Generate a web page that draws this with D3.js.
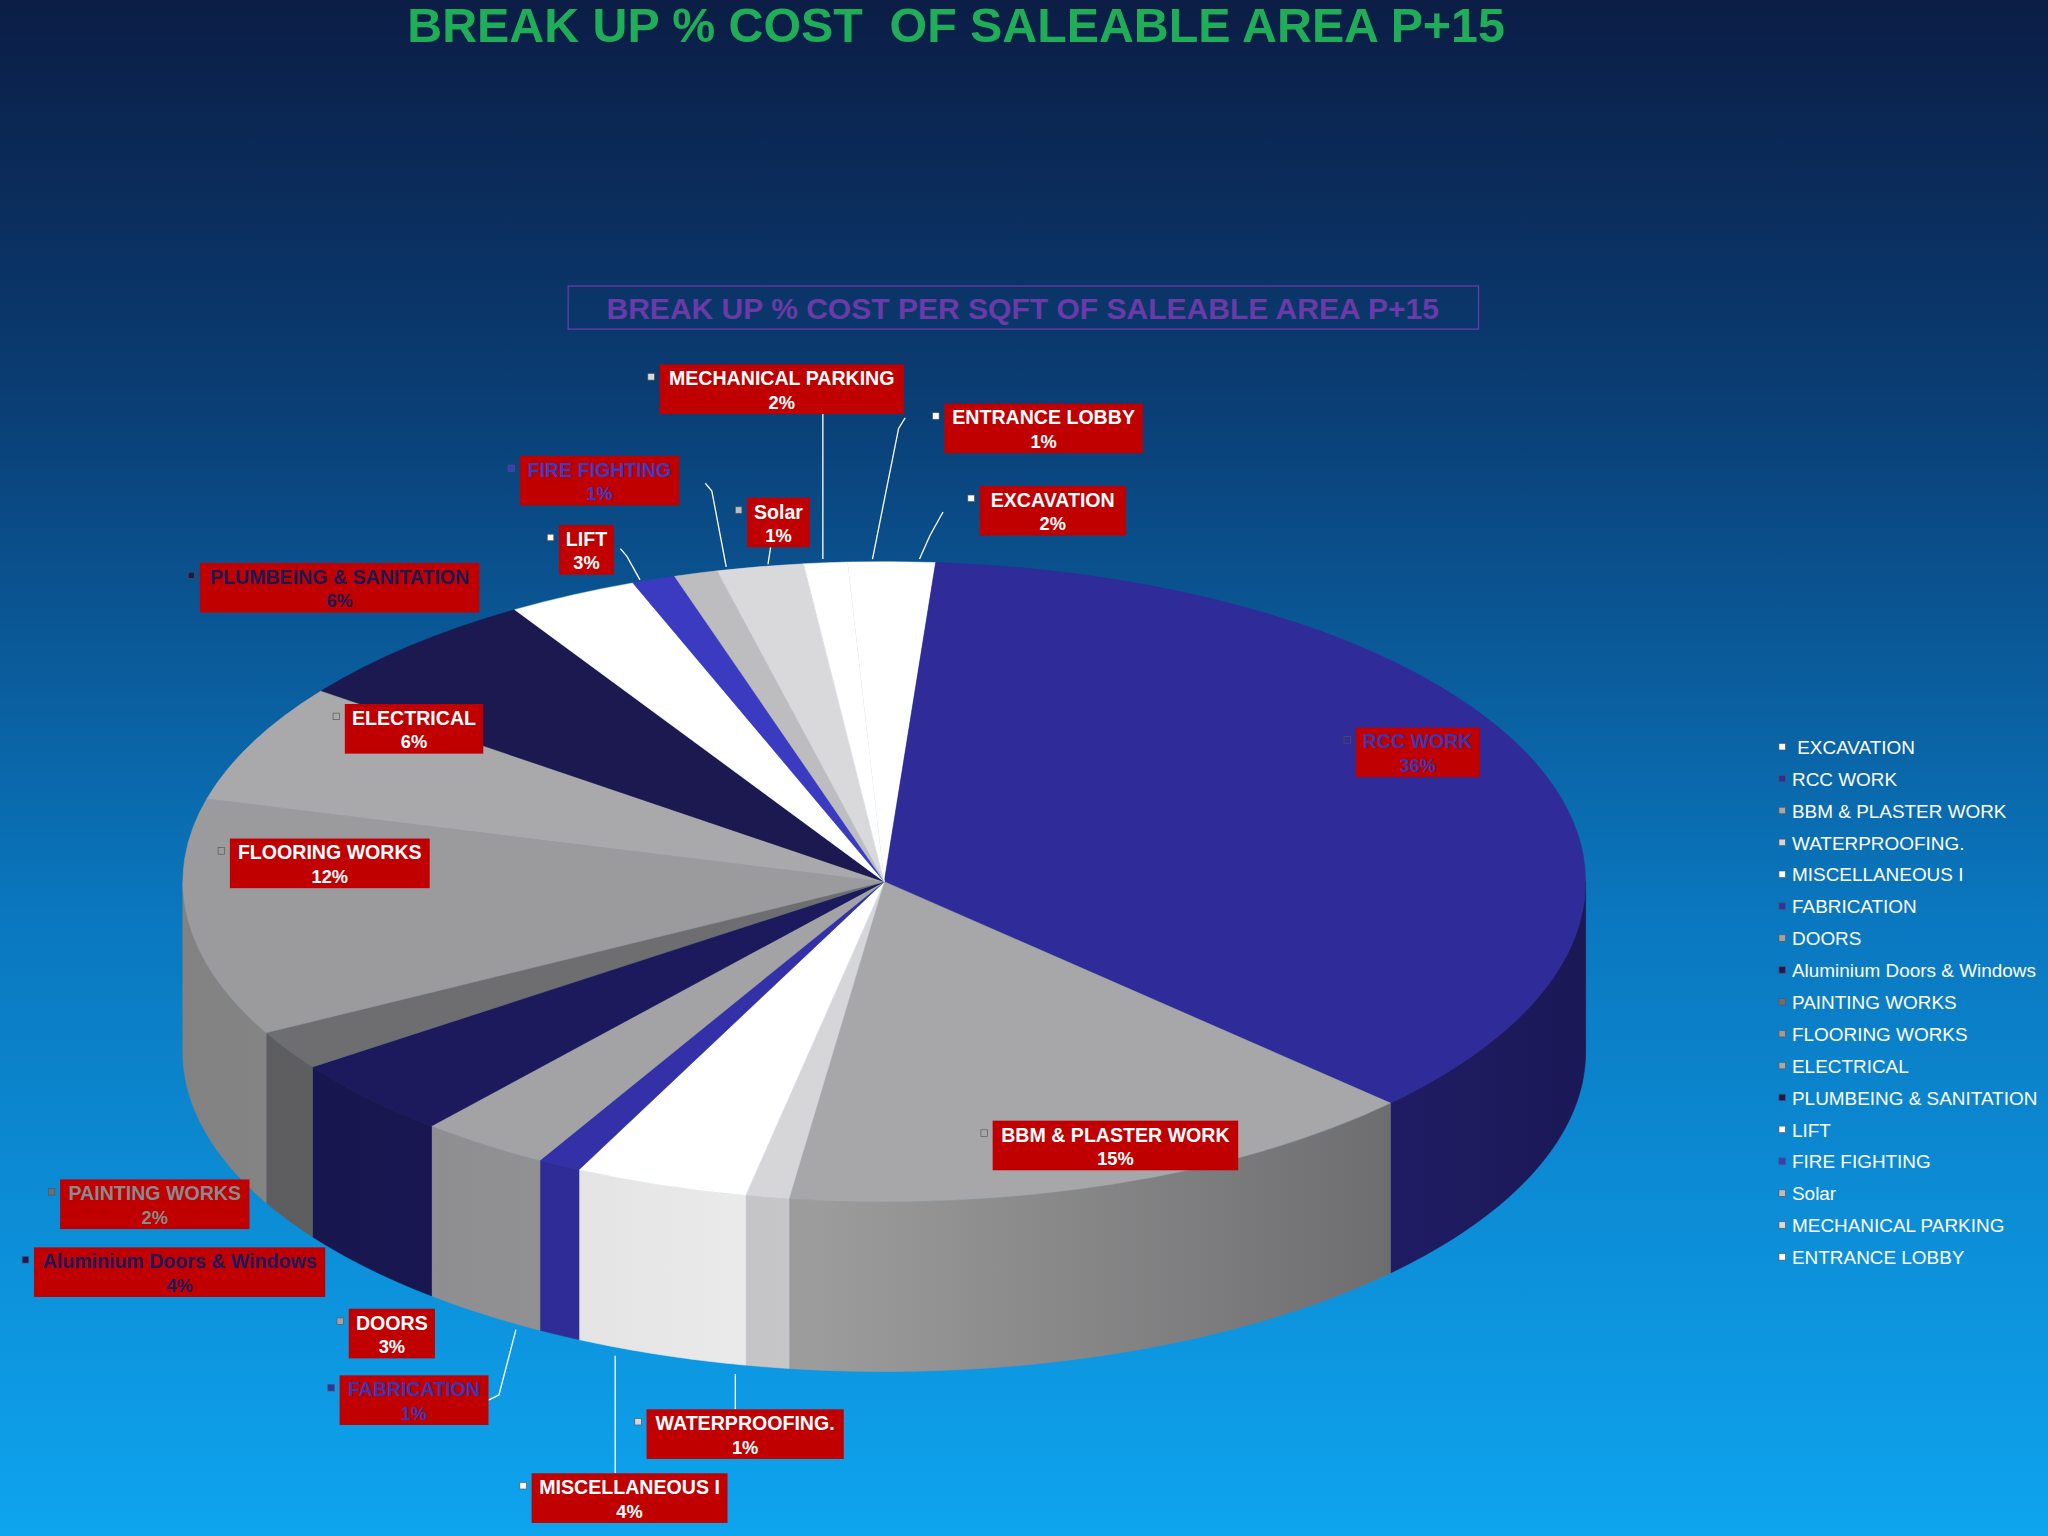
<!DOCTYPE html>
<html><head><meta charset="utf-8">
<script src="https://cdn.jsdelivr.net/npm/d3@7"></script>
<style>html,body{margin:0;padding:0;overflow:hidden}</style>
</head><body>
<script>
const categories=["EXCAVATION","RCC WORK","BBM & PLASTER WORK","WATERPROOFING.","MISCELLANEOUS I","FABRICATION","DOORS","Aluminium Doors & Windows","PAINTING WORKS","FLOORING WORKS","ELECTRICAL","PLUMBEING & SANITATION","LIFT","FIRE FIGHTING","Solar","MECHANICAL PARKING","ENTRANCE LOBBY"];
const values=[2,36,15,1,4,1,3,4,2,12,6,6,3,1,1,2,1];
const colors=["#ffffff","#2f2b98","#a7a7a9","#d6d6d8","#ffffff","#3431a8","#a3a3a5","#1c1a5c","#6e6e70","#9b9b9d","#a9a9ab","#1b1950","#ffffff","#3b3bc2","#bdbdbf","#d9d9db","#ffffff"];
const labelText=["#ffffff","#3a36b0","#ffffff","#ffffff","#ffffff","#3a36b0","#ffffff","#1c1a5c","#8a8a8c","#ffffff","#ffffff","#1b1950","#ffffff","#3b3bc2","#ffffff","#ffffff","#ffffff"];
const labelBoxes=[[750,372,862,410],[1038,557,1133,595],[760,858,948,896],[495,1079,646,1117],[407,1128,557,1166],[260,1053,374,1091],[267,1002,333,1040],[26,955,249,993],[46,903,191,941],[176,642,329,680],[264,539,370,577],[153,431,367,469],[428,402,470,440],[398,349,520,387],[572,381,620,419],[505,279,692,317],[723,309,875,347]];
const leaders=[[[722,392],[712,410],[704,428]],null,null,[[563,1079],[563,1052]],[[471,1128],[471,1038]],[[374,1072],[382,1068],[395,1018]],null,null,null,null,null,null,[[475,420],[480,426],[490,444]],[[540,370],[545,376],[556,434]],[[590,419],[588,432]],[[630,317],[630,428]],[[693,320],[688,328],[668,428]]];

const W=1568,H=1176;
const svg=d3.select("body").append("svg").attr("width",2048).attr("height",1536).attr("viewBox",`0 0 ${W} ${H}`);
const defs=svg.append("defs");
const bg=defs.append("linearGradient").attr("id","bg").attr("x1",0).attr("y1",0).attr("x2",0).attr("y2",1);
bg.append("stop").attr("offset","0").attr("stop-color","#0b1d45");
bg.append("stop").attr("offset","0.25").attr("stop-color","#0a3c72");
bg.append("stop").attr("offset","0.6").attr("stop-color","#0a78c0");
bg.append("stop").attr("offset","1").attr("stop-color","#0ea4ee");
svg.append("rect").attr("width",W).attr("height",H).attr("fill","url(#bg)");

svg.append("text").attr("x",732).attr("y",32).attr("text-anchor","middle").style("white-space","pre").attr("font-family","Liberation Sans, Arial").attr("font-weight","bold").attr("font-size",37).attr("fill","#1fae57").text("BREAK UP % COST  OF SALEABLE AREA P+15");
svg.append("rect").attr("x",435).attr("y",219).attr("width",697).attr("height",33).attr("fill","none").attr("stroke","#6a3aa8").attr("stroke-width",1);
svg.append("text").attr("x",783).attr("y",244).attr("text-anchor","middle").attr("font-family","Liberation Sans, Arial").attr("font-weight","bold").attr("font-size",23).attr("fill","#6a3aa8").text("BREAK UP % COST PER SQFT OF SALEABLE AREA P+15");

const cx=677,cy=675,rx=537,ry=245,depth=130;
const start=-3*Math.PI/180;
const pie=d3.pie().sort(null).value(d=>d).startAngle(start).endAngle(start+2*Math.PI);
const arcs=pie(values);
const pt=(a,dy=0)=>[cx+rx*Math.sin(a),cy-ry*Math.cos(a)+dy];

arcs.forEach((d,i)=>{
  const g=defs.append("linearGradient").attr("id","s"+i).attr("gradientUnits","userSpaceOnUse").attr("x1",cx-rx).attr("x2",cx+rx).attr("y1",0).attr("y2",0);
  const c=d3.color(colors[i]);
  g.append("stop").attr("offset","0").attr("stop-color",c.darker(0.5));
  g.append("stop").attr("offset","0.45").attr("stop-color",c.darker(0.2));
  g.append("stop").attr("offset","1").attr("stop-color",c.darker(1.6));
});
const sides=svg.append("g");
arcs.forEach((d,i)=>{
  let a0=Math.max(d.startAngle,Math.PI/2),a1=Math.min(d.endAngle,3*Math.PI/2);
  if(a1<=a0)return;
  const n=40,top=[],bot=[];
  for(let k=0;k<=n;k++){const a=a0+(a1-a0)*k/n;top.push(pt(a));bot.push(pt(a,depth));}
  const p=top.concat(bot.reverse());
  sides.append("path").attr("d","M"+p.map(q=>q.join(",")).join("L")+"Z").attr("fill",`url(#s${i})`).attr("stroke",`url(#s${i})`).attr("stroke-width",0.5);
});
const topG=svg.append("g").attr("transform",`translate(${cx},${cy}) scale(1,${ry/rx})`);
const arcGen=d3.arc().innerRadius(0).outerRadius(rx);
topG.selectAll("path").data(arcs).join("path").attr("d",arcGen).attr("fill",(d,i)=>colors[i]).attr("stroke",(d,i)=>colors[i]).attr("stroke-width",0.5);

const line=d3.line();
leaders.forEach(l=>{if(l)svg.append("path").attr("d",line(l)).attr("fill","none").attr("stroke","#ffffff").attr("stroke-width",1);});

labelBoxes.forEach((b,i)=>{
  const g=svg.append("g");
  g.append("rect").attr("x",b[0]).attr("y",b[1]).attr("width",b[2]-b[0]).attr("height",b[3]-b[1]).attr("fill","#c00000");
  g.append("rect").attr("x",b[0]-9).attr("y",b[1]+7).attr("width",5).attr("height",5).attr("fill",colors[i]).attr("stroke","#555").attr("stroke-width",0.5);
  const mx=(b[0]+b[2])/2;
  g.append("text").attr("x",mx).attr("y",b[1]+16).attr("text-anchor","middle").attr("font-family","Liberation Sans, Arial").attr("font-weight","bold").attr("font-size",15).attr("fill",labelText[i]).text(categories[i]);
  g.append("text").attr("x",mx).attr("y",b[1]+34).attr("text-anchor","middle").attr("font-family","Liberation Sans, Arial").attr("font-weight","bold").attr("font-size",14).attr("fill",labelText[i]).text(values[i]+"%");
});

const ly=d3.scaleBand().domain(categories).range([560,975]);
categories.forEach((c,i)=>{
  const y=ly(c)+ly.bandwidth()/2;
  svg.append("rect").attr("x",1362).attr("y",y-3).attr("width",5).attr("height",5).attr("fill",colors[i]).attr("stroke","#555").attr("stroke-width",0.5);
  svg.append("text").attr("x",i===0?1376:1372).attr("y",y+5).attr("font-family","Liberation Sans, Arial").attr("font-size",14.5).attr("fill","#ffffff").text(c);
});
</script>
</body></html>
